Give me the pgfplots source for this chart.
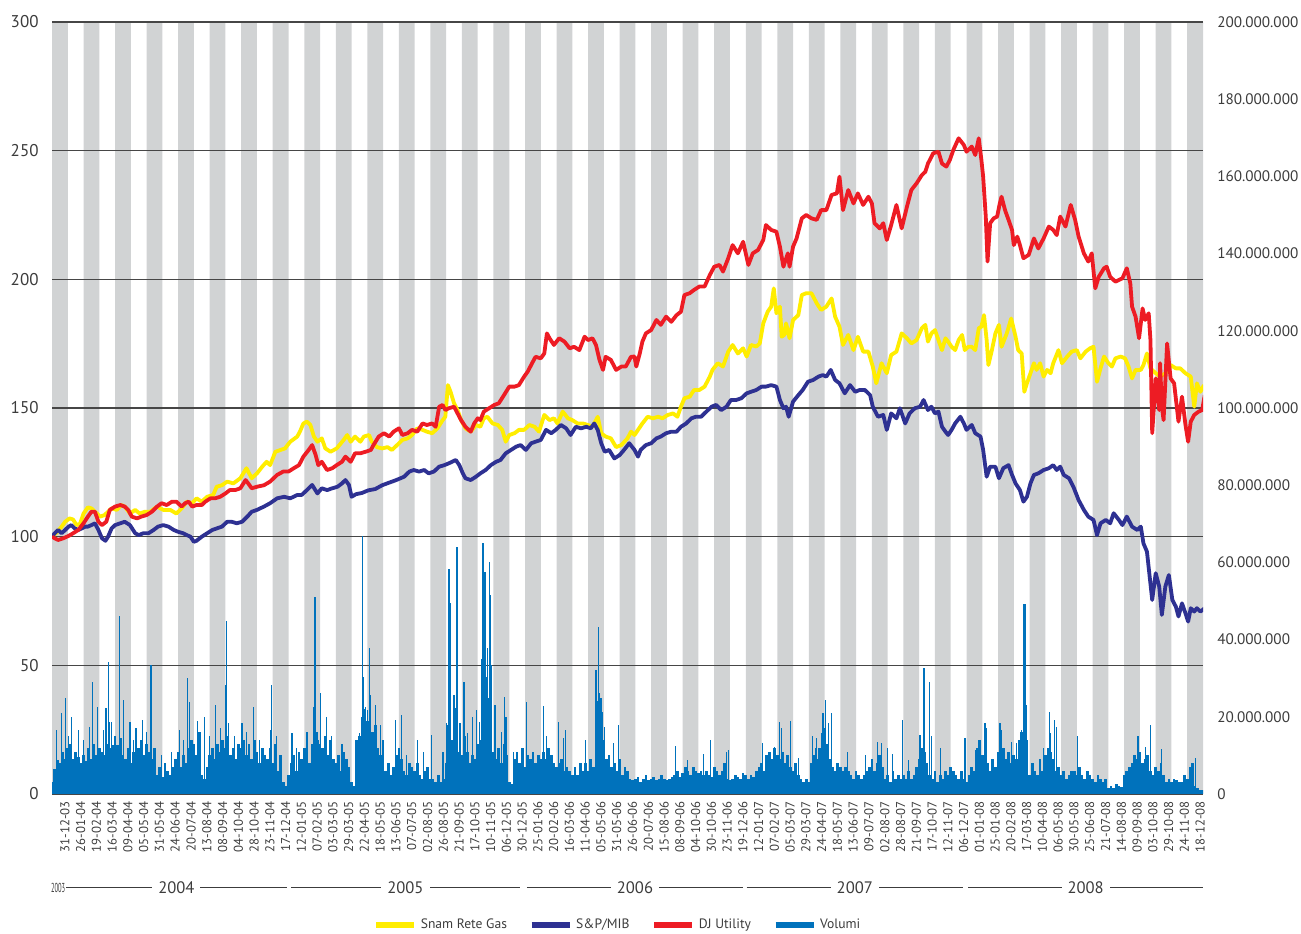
\documentclass[border=0pt]{standalone}
\usepackage{fontspec}
\setmainfont{PT Sans}
\usepackage{pgfplots}
\pgfplotsset{compat=1.18}
\definecolor{stripe}{RGB}{209,211,212}
\definecolor{snam}{RGB}{255,237,0}
\definecolor{spmib}{RGB}{46,49,146}
\definecolor{djutil}{RGB}{237,28,36}
\definecolor{vol}{RGB}{0,114,188}
\definecolor{txt}{RGB}{60,60,60}
\definecolor{gridc}{RGB}{70,70,70}
\pgfplotsset{
  myaxis/.style={
    at={(0,0)}, anchor=south west,
    scale only axis, width=575.5pt, height=386pt,
    xmin=-9, xmax=1305,
    axis line style={draw=none},
    tick style={draw=none},
    /pgf/number format/assume math mode=true,
  },
}
\begin{document}
\begin{tikzpicture}
% ---------- axis A: stripes, grid, x labels, left y labels ----------
\begin{axis}[myaxis, ymin=0, ymax=300, clip=false,
  ytick={0,50,...,300},
  yticklabel style={font=\fontsize{8.5}{10}\selectfont, text=txt, xshift=-3.2pt},
  xtick={0,18,...,1296},
  xticklabels={31-12-03,26-01-04,19-02-04,16-03-04,09-04-04,05-05-04,31-05-04,24-06-04,20-07-04,13-08-04,08-09-04,04-10-04,28-10-04,23-11-04,17-12-04,12-01-05,07-02-05,03-03-05,29-03-05,22-04-05,18-05-05,13-06-05,07-07-05,02-08-05,26-08-05,21-09-05,17-10-05,10-11-05,06-12-05,30-12-05,25-01-06,20-02-06,16-03-06,11-04-06,05-05-06,31-05-06,26-06-06,20-07-06,15-08-06,08-09-06,04-10-06,30-10-06,23-11-06,19-12-06,12-01-07,07-02-07,05-03-07,29-03-07,24-04-07,18-05-07,13-06-07,09-07-07,02-08-07,28-08-07,21-09-07,17-10-07,12-11-07,06-12-07,01-01-08,25-01-08,20-02-08,17-03-08,10-04-08,06-05-08,30-05-08,25-06-08,21-07-08,14-08-08,09-09-08,03-10-08,29-10-08,24-11-08,18-12-08},
  xticklabel style={rotate=90, anchor=east, font=\fontsize{6.4}{7}\selectfont, text=txt, yshift=-2.5pt},
]
\addplot[ybar interval, fill=stripe, draw=none] coordinates {(-9,300) (9,0) (27,300) (45,0) (63,300) (81,0) (99,300) (117,0) (135,300) (153,0) (171,300) (189,0) (207,300) (225,0) (243,300) (261,0) (279,300) (297,0) (315,300) (333,0) (351,300) (369,0) (387,300) (405,0) (423,300) (441,0) (459,300) (477,0) (495,300) (513,0) (531,300) (549,0) (567,300) (585,0) (603,300) (621,0) (639,300) (657,0) (675,300) (693,0) (711,300) (729,0) (747,300) (765,0) (783,300) (801,0) (819,300) (837,0) (855,300) (873,0) (891,300) (909,0) (927,300) (945,0) (963,300) (981,0) (999,300) (1017,0) (1035,300) (1053,0) (1071,300) (1089,0) (1107,300) (1125,0) (1143,300) (1161,0) (1179,300) (1197,0) (1215,300) (1233,0) (1251,300) (1269,0) (1287,300) (1305,300)};
\addplot[gridc, line width=0.55pt] coordinates {(-9,0) (1305,0)};
\addplot[gridc, line width=0.55pt] coordinates {(-9,50) (1305,50)};
\addplot[gridc, line width=0.55pt] coordinates {(-9,100) (1305,100)};
\addplot[gridc, line width=0.55pt] coordinates {(-9,150) (1305,150)};
\addplot[gridc, line width=0.55pt] coordinates {(-9,200) (1305,200)};
\addplot[gridc, line width=0.55pt] coordinates {(-9,250) (1305,250)};
\addplot[gridc, line width=0.55pt] coordinates {(-9,300) (1305,300)};
% year row
\node[font=\fontsize{6.5}{7}\selectfont, text=txt, xscale=0.5] at (axis cs:-2,-36.5) {2003};
\draw[txt, line width=0.5pt] (axis cs:7,-36.5) -- node[fill=white, inner xsep=3pt, inner ysep=1pt, text=txt, font=\fontsize{8.3}{9}\selectfont] {2004} (axis cs:259,-36.5);
\draw[txt, line width=0.5pt] (axis cs:264,-36.5) -- node[fill=white, inner xsep=3pt, inner ysep=1pt, text=txt, font=\fontsize{8.3}{9}\selectfont] {2005} (axis cs:525,-36.5);
\draw[txt, line width=0.5pt] (axis cs:533,-36.5) -- node[fill=white, inner xsep=3pt, inner ysep=1pt, text=txt, font=\fontsize{8.3}{9}\selectfont] {2006} (axis cs:780,-36.5);
\draw[txt, line width=0.5pt] (axis cs:784,-36.5) -- node[fill=white, inner xsep=3pt, inner ysep=1pt, text=txt, font=\fontsize{8.3}{9}\selectfont] {2007} (axis cs:1031,-36.5);
\draw[txt, line width=0.5pt] (axis cs:1037,-36.5) -- node[fill=white, inner xsep=3pt, inner ysep=1pt, text=txt, font=\fontsize{8.3}{9}\selectfont] {2008} (axis cs:1305,-36.5);
\end{axis}
% ---------- axis B: volumes, right labels ----------
\begin{axis}[myaxis, ymin=0, ymax=200, xtick=\empty,
  ytick={0,20,...,200},
  yticklabels={0,20.000.000,40.000.000,60.000.000,80.000.000,100.000.000,120.000.000,140.000.000,160.000.000,180.000.000,200.000.000},
  yticklabel pos=right,
  yticklabel style={font=\fontsize{7.6}{9}\selectfont, text=txt, xshift=3.6pt},
]
\addplot[ycomb, vol, line width=1.35pt] coordinates {
(-9,3) (-6,6.5) (-3,8.8) (0,8) (3,11) (6,9) (9,12) (12,13) (15,9) (18,11) (21,9.5) (24,8) (27,10) (30,8.5) (33,12) (36,9) (39,13) (42,10) (45,12) (48,11) (51,10) (54,13) (57,12) (60,12.7) (63,11) (66,12.7) (69,14.4) (72,10) (75,9) (78,12) (81,8) (84,11) (87,9) (90,12) (93,14) (96,10) (99,13) (102,11) (105,9) (108,12) (111,5) (114,7) (117,4.5) (120,8) (123,6) (126,5) (129,7) (132,9) (135,11) (138,7) (141,10) (144,8) (147,12) (150,14) (153,13) (156,10) (159,16) (162,5) (165,4) (168,7) (171,10) (174,12) (177,9) (180,13) (183,11) (186,14) (189,12) (192,15) (195,10) (198,12) (201,9) (204,13) (207,12) (210,14) (213,10) (216,13) (219,9) (222,14) (225,11) (228,8) (231,12) (234,10) (237,9) (240,12) (243,8) (246,13) (249,6) (252,10) (255,3) (258,2) (261,5) (264,8) (267,10) (270,6) (273,11) (276,9) (279,12) (282,11) (285,8) (288,13) (291,12) (294,14) (297,13) (300,12) (303,15) (306,10) (309,14) (312,9) (315,8) (318,10) (321,6) (324,11) (327,9) (330,7) (333,3) (336,2) (339,14) (342,15) (345,20) (348,22) (351,19) (354,20) (357,16) (360,18) (363,12) (366,10) (369,14) (372,6) (375,8) (378,5) (381,7) (384,10) (387,12) (390,9) (393,6) (396,5) (399,8) (402,7) (405,6) (408,8) (411,5) (414,4) (417,6) (420,7) (423,4) (426,4) (429,3) (432,5) (435,3) (438,4) (441,8) (444,18) (447,14) (450,16) (453,12) (456,11) (459,10) (462,15) (465,11) (468,8) (471,10) (474,9) (477,13) (480,14) (483,22) (486,28) (489,25) (492,20) (495,11) (498,9) (501,12) (504,8) (507,13) (510,10) (513,3) (516,2.5) (519,9) (522,11) (525,8) (528,12) (531,7) (534,10) (537,9) (540,11) (543,8) (546,10) (549,9) (552,11) (555,9) (558,12) (561,10) (564,8) (567,7) (570,8) (573,9) (576,6) (579,7) (582,6) (585,5) (588,7) (591,5) (594,8) (597,6) (600,8) (603,6) (606,9) (609,7) (612,18) (615,24) (618,17) (621,14) (624,9) (627,10) (630,7) (633,8) (636,6) (639,9) (642,5) (645,7) (648,6) (651,4) (654,3.5) (657,4) (660,4.5) (663,3) (666,4) (669,5) (672,3.5) (675,4) (678,4.5) (681,3.5) (684,4) (687,5) (690,4) (693,3.5) (696,4) (699,4.5) (702,5) (705,6) (708,4.5) (711,5.5) (714,7) (717,6) (720,5) (723,7) (726,6) (729,5.5) (732,6) (735,5) (738,6) (741,5) (744,4.5) (747,7) (750,6) (753,5) (756,6) (759,8) (762,4) (765,3.5) (768,4) (771,5) (774,4.5) (777,4) (780,5.5) (783,5) (786,4) (789,5) (792,4.5) (795,6) (798,7) (801,8) (804,6) (807,10) (810,11) (813,9) (816,12) (819,10) (822,9) (825,11) (828,8) (831,10) (834,7) (837,6) (840,8) (843,5) (846,4) (849,3) (852,4) (855,3) (858,8) (861,10) (864,9) (867,12) (870,15) (873,17) (876,13) (879,9) (882,7) (885,6) (888,8) (891,7) (894,6) (897,7) (900,6) (903,5) (906,4) (909,6) (912,5) (915,4) (918,5) (921,6) (924,7) (927,9) (930,6) (933,8) (936,10) (939,7) (942,4) (945,5) (948,3) (951,6) (954,4) (957,5) (960,4) (963,5) (966,4) (969,6) (972,4) (975,5) (978,7) (981,9) (984,12) (987,11) (990,8) (993,5) (996,4) (999,6) (1002,3) (1005,5) (1008,4) (1011,6) (1014,5) (1017,7) (1020,6) (1023,5) (1026,4) (1029,6) (1032,4) (1035,3) (1038,5) (1041,7) (1044,6) (1047,12) (1050,14) (1053,10) (1056,13) (1059,8) (1062,6) (1065,9) (1068,7) (1071,11) (1074,10) (1077,12) (1080,9) (1083,11) (1086,8) (1089,10) (1092,9) (1095,14) (1098,16) (1101,11) (1104,7) (1107,5) (1110,8) (1113,6) (1116,5) (1119,9) (1122,6) (1125,10) (1128,12) (1131,11) (1134,9) (1137,6) (1140,7) (1143,5) (1146,6) (1149,4) (1152,5) (1155,6) (1158,6) (1161,5) (1164,7) (1167,5) (1170,4) (1173,6) (1176,5) (1179,4) (1182,3) (1185,5) (1188,4) (1191,3) (1194,4) (1197,1.5) (1200,2) (1203,1.5) (1206,2.5) (1209,2) (1212,1.8) (1215,5) (1218,6) (1221,7) (1224,8) (1227,10) (1230,9) (1233,11) (1236,8) (1239,9) (1242,10) (1245,6) (1248,5) (1251,7) (1254,6) (1257,8) (1260,5) (1263,3) (1266,4) (1269,3) (1272,4) (1275,3.5) (1278,3) (1281,3) (1284,5) (1287,4) (1290,7) (1293,8) (1296,2) (1299,1.5) (1302,1) (1305,1)};
\addplot[ycomb, vol, line width=0.6pt] coordinates {
(-4,16.6) (2,20.9) (6,24.8) (10,15) (13,20) (21,16.6) (27,14) (33.5,17.4) (37,29.1) (43,22.6) (49.6,16.6) (52.6,22.2) (55.3,34.3) (57,18.7) (59,18.7) (63,15) (68,46.1) (72.4,24.4) (80,18.7) (84,14) (87,17) (94.6,19.2) (99,16) (104,33.4) (116,10) (127,11) (136.5,16.6) (141,14) (145.6,30) (148,23.9) (157,19) (165,20) (171,15) (177.3,23.1) (183,17) (188.7,28.2) (190.6,44.9) (192.5,18.3) (199,15) (207.8,18.3) (213,16) (221,22.6) (228,14) (240,16.6) (242,28.2) (247,15) (265,15.7) (270,12) (282,16) (290,22.6) (291.2,51.1) (293.6,16.1) (297.4,26.1) (304,20) (310,15) (322,13) (342.4,15.7) (345.8,66.8) (347,30.4) (349,22.6) (351,21.8) (353.8,37.7) (355,25.6) (360,23) (366,18) (383,19.2) (390,20.5) (396,10) (408,14) (415,11) (424.5,15.3) (437.3,11) (441.5,18.3) (444.2,58.2) (445.3,49.4) (449.1,21.3) (449.9,25.6) (451.8,22.2) (453.3,64.1) (454.1,26.5) (456.8,18.3) (461.3,29.1) (465.1,15.7) (470.9,20) (475.8,21.8) (478.9,18.7) (481.2,35.1) (482.3,45) (483,65) (484.2,45.5) (485.4,57.6) (486.9,30.4) (488,37.7) (489.2,19.2) (490.3,60.2) (491.1,51.6) (492.2,33.4) (496.8,23.1) (504,16.1) (507.8,25.2) (509.4,20) (517.8,11) (532.6,23.9) (551.7,22.8) (555.9,14.9) (568.9,18.7) (574.6,14.4) (576.9,16.6) (599.7,14) (612,32.1) (614.6,43.3) (615.8,26.1) (617.7,24.8) (619.6,21.3) (621.5,17.4) (632.2,13.1) (637.5,17.9) (702.7,12.4) (716.8,8.8) (735.1,10.4) (742.4,14) (760.7,11) (763.7,11.4) (801.8,13.1) (816,12.3) (821.7,18.7) (823.6,17) (834.3,18.9) (843.4,9.3) (859,14.9) (862.9,11.8) (863.6,14.4) (869.3,15.7) (871.2,20.9) (873.9,24.4) (877,18.3) (880.8,20.9) (899.1,11) (920,10.1) (933,13.6) (938,13.1) (944.4,11.8) (950.5,10.4) (961.6,19.2) (968.5,8.8) (981.8,15.3) (985.6,19.6) (986.4,32.6) (992.5,29.1) (995.2,14.9) (1005.4,11.8) (1033.3,14.4) (1045.9,11.4) (1056.2,18.3) (1058,17) (1073.3,18.3) (1075.2,16.6) (1086.7,13.6) (1092.4,13.1) (1098.1,16.6) (1100,49.2) (1101,49.2) (1102,49.2) (1103.1,23.1) (1104.6,14) (1122.9,11.8) (1129.4,21.3) (1130.5,15.7) (1135.1,19.2) (1138.1,17.4) (1161.8,14.9) (1230.8,14.9) (1239.2,12.3) (1244.9,17.9) (1257.4,11.7) (1296.4,9.2)};
\end{axis}
% ---------- axis C: index lines and legend ----------
\begin{axis}[myaxis, ymin=0, ymax=300, xtick=\empty, ytick=\empty,
  legend columns=4,
  legend style={at={(0.4926,-0.1697)}, anchor=center, draw=none, fill=none,
    font=\fontsize{6.8}{8}\selectfont, text=txt,
    /tikz/every even column/.append style={column sep=9pt}},
  legend image code/.code={\draw[#1, line width=2.6pt] (0pt,0pt) -- (19pt,0pt);},
]
\addplot[snam, line width=1.9pt, line join=round] coordinates {
(-9,100) (-4,101.5) (2,103.9) (6,105.8) (11,107.1) (15,106.7) (19,104.5) (23,105) (27,109) (32,111.4) (36,111) (40,109.7) (46,107.8) (51,108.4) (55,109.7) (59,111) (65,110.4) (70,112.3) (74,111.7) (80,109) (86,110.4) (91,109) (97,109.7) (103,109.7) (111,111.7) (118,110.4) (126,110.4) (133,109) (139,111) (145,113.6) (151,113) (156,114.9) (162,113.6) (168,115.5) (175,116.2) (179,119.4) (185,120) (191,121.4) (198,120.7) (206,122.7) (213,126.6) (219,122.7) (225,124.6) (231,127.2) (236,129.1) (240,127.8) (246,133) (252,133.7) (257,134.3) (263,136.9) (271,138.9) (274,140.8) (278,144) (282,144.7) (286,143.4) (290,138.9) (294,136.9) (299,138.2) (303,134.3) (309,133) (316,134.3) (324,137.6) (328,139.5) (332,136.9) (337,138.9) (343,136.9) (347,138.9) (353,139.5) (356,136.9) (362,134.8) (368,134.3) (374,134.8) (379,133.7) (385,135.6) (391,137.6) (397,138.2) (402,139.5) (408,142.1) (414,141.5) (419,140.8) (425,140.2) (431,142.1) (437,145.3) (440,146.6) (443,158.9) (446,156.3) (450,151.8) (454,149.2) (458,145.3) (463,142.1) (469,140.8) (475,143.4) (480,142.7) (484,146) (488,146.6) (494,144) (500,143.4) (505,141.5) (509,136.9) (513,139.5) (519,140.2) (524,141.5) (530,141.5) (536,143.4) (542,142.7) (547,140.8) (553,147.3) (559,145.3) (564,146) (568,144) (574,148.6) (580,146) (585,145.3) (591,144) (597,144) (603,143.4) (608,142.7) (614,146.6) (618,140.2) (623,138.9) (629,138.2) (635,134.8) (641,135.6) (648,138.2) (652,140.8) (656,139.5) (660,141.5) (665,144) (671,146.6) (677,146) (683,146.6) (688,146) (694,147.3) (700,147.9) (705,146.6) (709,150.5) (713,153.8) (719,154.4) (724,157) (730,157) (736,158.3) (742,162.2) (745,164.8) (751,167.4) (757,166.1) (763,171.9) (768,174.5) (774,171.2) (780,173.2) (784,170) (789,174.5) (795,173.9) (799,175.1) (803,182.9) (808,187.4) (812,189.4) (815,196.5) (818,186.8) (822,189.4) (824,177.7) (827,178.4) (829,182.9) (833,177.1) (837,184.2) (843,186.1) (847,193.9) (852,194.6) (858,194.6) (864,190.7) (869,188.1) (875,189.4) (881,192.6) (885,185.5) (890,181.6) (894,174.5) (900,178.4) (906,172.5) (911,177.7) (917,171.9) (923,171.9) (928,166.1) (932,159.6) (938,167.4) (944,163.5) (949,170.6) (955,171.9) (961,179) (967,177.1) (972,175.1) (978,176.4) (984,181) (988,182.3) (991,175.8) (995,179) (999,180.3) (1003,176.4) (1007,172.5) (1011,177.1) (1014,175.8) (1018,173.8) (1022,172.5) (1026,176.4) (1030,178.4) (1033,172.5) (1037,173.8) (1041,173.8) (1045,172.5) (1049,181) (1052,181.6) (1055,186.1) (1058,176.4) (1060,166.7) (1064,172.5) (1068,179) (1072,182.3) (1075,173.8) (1081,179) (1086,184.8) (1091,177.7) (1094,172.5) (1098,171.2) (1101,156.3) (1104,159.6) (1108,163.5) (1112,167.4) (1115,164.8) (1119,167.4) (1123,162.2) (1127,164.8) (1131,163.5) (1134,167.4) (1140,172.5) (1144,167.4) (1150,170) (1155,171.9) (1161,172.5) (1165,169.3) (1171,171.9) (1176,173.2) (1180,173.8) (1184,160.2) (1188,165.4) (1192,170) (1197,167.4) (1201,166.1) (1205,169.3) (1211,170) (1216,169.3) (1220,166.1) (1224,161.5) (1228,164.8) (1234,164.8) (1237,166.7) (1241,171.2) (1245,165.4) (1251,163.5) (1256,162.2) (1262,163.5) (1268,166.7) (1274,165.4) (1279,165.4) (1285,163.5) (1291,162.2) (1295,150.5) (1298,159.6) (1302,156.3) (1306,158.9)};
\addplot[spmib, line width=1.9pt, line join=round] coordinates {
(-9,100) (-6,101.3) (-2,102.6) (2,101.3) (6,102.6) (10,103.9) (13,104.5) (17,103.2) (21,102.6) (25,103.2) (29,103.9) (32,103.9) (36,104.5) (40,105.2) (44,102.6) (48,99.4) (52,98.4) (55,100) (59,103.2) (63,104.5) (69,105.2) (74,105.8) (80,104.5) (86,101.3) (90,100.6) (95,101.3) (101,101.3) (107,102.6) (112,103.9) (118,104.5) (124,103.9) (130,102.6) (135,101.9) (141,101.3) (145,100.6) (149,100) (153,98) (156,98.4) (162,100) (168,101.3) (174,102.6) (179,103.2) (185,103.9) (191,105.8) (196,105.8) (202,105.2) (208,105.8) (214,107.8) (219,109.7) (225,110.4) (233,111.7) (240,113) (248,114.9) (256,115.5) (263,114.9) (271,116.2) (276,116.2) (282,118.1) (288,120.1) (294,116.8) (299,118.8) (305,118.1) (311,118.8) (317,119.4) (322,120.7) (326,122) (330,120.1) (333,115.5) (338,116.5) (345,117) (352,118) (360,118.5) (368,120) (376,121) (384,122) (393,123.3) (399,125.3) (404,125.9) (410,125.3) (416,125.9) (421,124.6) (427,125.3) (433,127.2) (439,127.8) (444,128.5) (452,129.8) (456,127.8) (460,124.6) (463,122.7) (469,122) (475,123.3) (480,124.6) (486,125.9) (492,127.8) (498,129.1) (503,129.8) (509,132.4) (515,133.7) (521,135) (526,135.6) (532,133.7) (538,136.3) (543,136.9) (549,137.6) (555,141.5) (561,140.2) (566,141.5) (572,143.4) (578,142.1) (583,139.5) (589,142.7) (595,142.1) (601,142.7) (606,142.1) (610,144) (614,141.5) (618,136.3) (622,133) (627,133.7) (633,130.4) (639,131.7) (644,133.7) (650,136.3) (656,133.7) (660,131.1) (663,133.7) (669,135.6) (675,136.3) (681,138.2) (686,138.9) (692,140.2) (698,140.8) (704,140.8) (709,142.7) (715,144) (721,146) (726,146.6) (732,146.6) (738,148.6) (744,150.5) (749,151.2) (755,149.2) (761,150.5) (766,153.1) (772,153.1) (778,153.8) (784,155.7) (789,156.3) (795,157) (801,158.3) (806,158.3) (812,158.9) (818,158.3) (822,153.1) (826,149.9) (829,150.5) (832,146.6) (837,152.5) (843,155) (848,157) (854,160.2) (860,160.9) (866,162.2) (871,162.8) (875,162.2) (880,164.8) (885,160.9) (890,159.6) (896,155.7) (902,158.9) (908,156.3) (913,157) (919,157) (925,155) (928,150.5) (934,146.6) (940,147.3) (944,141.5) (949,147.9) (955,146) (959,149.9) (965,144) (970,147.9) (976,149.9) (982,150.5) (986,153.1) (991,149.2) (995,150.5) (999,147.9) (1003,148.6) (1007,142.7) (1011,140.8) (1014,139.5) (1018,141.5) (1022,144) (1028,146.6) (1032,144) (1035,141.5) (1041,143.4) (1045,140.2) (1051,138.9) (1054,133.7) (1058,123.3) (1062,127.2) (1068,127.2) (1072,122.7) (1077,126.6) (1083,127.8) (1087,124) (1091,120.7) (1096,118.1) (1100,113.6) (1104,115.5) (1108,120.7) (1112,124) (1117,124.6) (1123,125.9) (1129,126.6) (1134,127.8) (1138,125.9) (1142,127.2) (1146,124) (1152,122.7) (1157,119.4) (1163,114.2) (1169,110.4) (1174,107.8) (1180,106.5) (1184,100.6) (1188,105.2) (1194,106.5) (1199,105.2) (1203,109.1) (1209,106.5) (1213,104.5) (1218,107.8) (1224,103.9) (1230,102.6) (1234,103.9) (1237,97.4) (1241,94.2) (1247,75.4) (1251,85.8) (1255,80.6) (1258,69.6) (1262,80.6) (1266,85.1) (1270,75.4) (1274,72.8) (1277,69) (1281,74.1) (1285,70.2) (1288,67) (1291,72.2) (1295,70.9) (1298,72.2) (1302,70.9) (1307,72.2)};
\addplot[djutil, line width=1.9pt, line join=round] coordinates {
(-9,100) (-6,99.4) (-2,98.7) (4,99.4) (10,100.3) (15,101.3) (21,102.6) (27,105.2) (32,107.8) (36,109.7) (40,109.7) (44,105.8) (48,104.5) (53,105.8) (57,110.4) (63,111.7) (69,112.3) (74,111.7) (78,110.4) (82,107.8) (88,107.1) (93,107.8) (99,108.4) (105,109.7) (111,111.7) (116,113) (122,112.3) (128,113.6) (133,113.6) (139,111.7) (143,113) (147,113.6) (151,111.7) (156,112.3) (162,112.3) (166,113.6) (172,114.9) (177,114.9) (183,115.5) (189,116.8) (194,118.1) (200,118.1) (206,118.8) (212,122) (215,120.7) (219,118.8) (225,119.4) (233,120) (240,121.4) (248,124) (255,125.3) (261,125.3) (267,126.6) (273,127.8) (278,131.1) (284,133.7) (288,135.6) (292,131.7) (295,127.8) (299,129.1) (305,125.9) (311,126.6) (316,127.8) (322,129.1) (326,131.1) (332,129.1) (337,132.4) (343,132.4) (349,133) (355,133.7) (358,135.6) (364,138.9) (370,140.2) (376,138.9) (381,140.8) (387,142.1) (391,139.5) (397,140.2) (402,141.5) (408,140.8) (414,144) (419,143.4) (425,144) (429,142.7) (433,150.5) (437,151.2) (440,149.2) (444,149.9) (450,150.5) (454,147.9) (458,145.3) (463,142.7) (469,140.8) (473,144) (477,146) (480,145.3) (484,148.6) (490,149.9) (496,151.2) (501,151.8) (507,155) (513,158.3) (519,158.3) (524,158.9) (530,162.2) (534,164.1) (540,168) (543,169.9) (549,169.3) (553,171.2) (556,179) (559,177.1) (564,174.5) (570,177.1) (576,175.8) (582,173.2) (587,173.8) (593,172.5) (599,177.7) (603,176.4) (608,177.1) (612,174.5) (616,168.7) (620,164.8) (623,169.9) (629,168.7) (635,164.8) (641,166.1) (646,166.1) (652,169.9) (656,170) (658,166.1) (662,171.2) (665,175.8) (669,179) (675,180.3) (681,184.2) (686,182.3) (692,185.5) (698,183.5) (704,186.1) (709,187.4) (713,193.9) (719,194.6) (724,195.9) (730,197.2) (736,197.2) (742,201.7) (747,204.9) (753,205.6) (757,203) (763,208.2) (768,213.3) (774,210.1) (780,214.6) (786,205.6) (791,210.1) (797,211.4) (803,215.3) (806,221.1) (812,219.2) (818,218.5) (822,212.7) (826,204.9) (831,210.1) (833,204.9) (837,212.7) (841,215.9) (847,223.7) (852,225) (858,223.7) (864,223.1) (869,226.9) (875,226.9) (881,232.8) (887,233.4) (890,239.9) (894,226.9) (900,234.7) (906,229.5) (911,233.4) (917,228.9) (923,232.1) (927,229.5) (930,221.8) (936,219.8) (940,221.8) (944,215.3) (949,221.1) (955,228.9) (961,219.8) (967,228.2) (972,234.7) (978,237.3) (984,240.5) (988,241.8) (991,245) (997,249) (1003,249.6) (1007,245) (1012,243.8) (1016,246.4) (1020,250.3) (1026,254.8) (1032,252.2) (1035,249.6) (1041,251.6) (1045,248.3) (1049,254.8) (1052,246.4) (1054,239.9) (1057,224.4) (1059,206.9) (1062,221.8) (1066,223.7) (1070,224.4) (1073,229.5) (1075,232.1) (1079,226.9) (1083,223.1) (1087,219.2) (1089,213.3) (1093,216.6) (1096,213.3) (1100,208.2) (1106,209.5) (1112,215.9) (1117,212) (1123,215.9) (1129,220.5) (1134,219.2) (1138,217.2) (1142,224.4) (1148,220.5) (1154,228.9) (1159,223.1) (1163,216.6) (1169,210.1) (1174,206.9) (1178,210.1) (1182,196.5) (1186,201) (1192,204.3) (1195,204.9) (1199,201) (1205,199.1) (1213,200.4) (1218,204.3) (1222,198.4) (1224,189.4) (1228,185.5) (1232,177.1) (1236,188.7) (1239,184.2) (1243,186.8) (1245,176.4) (1247,140.2) (1251,161.5) (1255,149.2) (1256,167.4) (1258,150.5) (1260,145.3) (1264,175.1) (1268,161.5) (1272,159.6) (1277,144.7) (1281,154.4) (1285,143.4) (1288,136.9) (1291,144.7) (1295,147.3) (1300,148.6) (1304,149.2) (1307,155)};
\addlegendimage{vol}
\legend{Snam Rete Gas, S\&P/MIB, DJ Utility, Volumi}
\end{axis}
\pgfresetboundingbox
\path[use as bounding box] (-26pt,-69.5pt) rectangle (624.5pt,397pt);
\end{tikzpicture}
\end{document}
